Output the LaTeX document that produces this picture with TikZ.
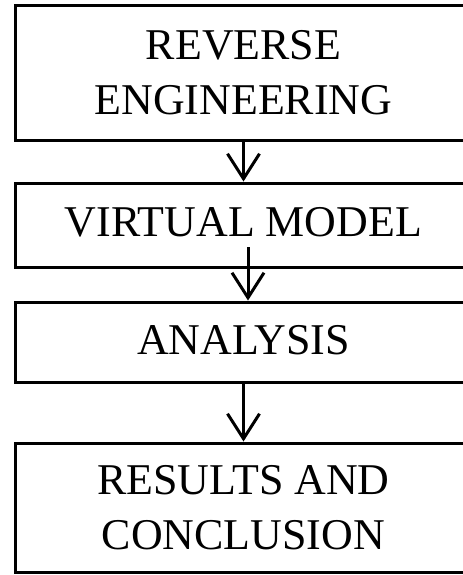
\documentclass[tikz,border=0pt]{standalone}
\usepackage{fontspec}
\setmainfont{Liberation Serif}
\usetikzlibrary{arrows.meta,positioning,calc}

\tikzset{
    stage/.style={draw, rectangle, line width=0.06cm, minimum width=9.14cm,
        align=center, inner sep=0pt, font=\fontsize{25}{31.3}\selectfont},
    flow/.style={-{Straight Barb[length=0.5cm,width=0.64cm]}, line width=0.06cm}
}

\begin{document}
\begin{tikzpicture}[x=0.02cm,y=-0.02cm]
    \clip (0,0) rectangle (463,575);
    \node (re) at (243.5,73)    [stage, minimum height=2.72cm] {REVERSE\\ENGINEERING};
    \node (vm) at (243.5,225.5) [stage, minimum height=1.7cm, text depth=0.16cm] {VIRTUAL MODEL};
    \node (an) at (243.5,342.5) [stage, minimum height=1.62cm, text depth=0.1cm] {ANALYSIS};
    \node (rc) at (243.5,508)   [stage, minimum height=2.6cm] {RESULTS AND\\CONCLUSION};
    \coordinate (vmout) at (248,247);
    \draw [flow] (re.south) -- (vm.north);
    \draw [flow] (vmout) -- (vmout |- an.north);
    \draw [flow] (an.south) -- (rc.north);
\end{tikzpicture}
\end{document}
